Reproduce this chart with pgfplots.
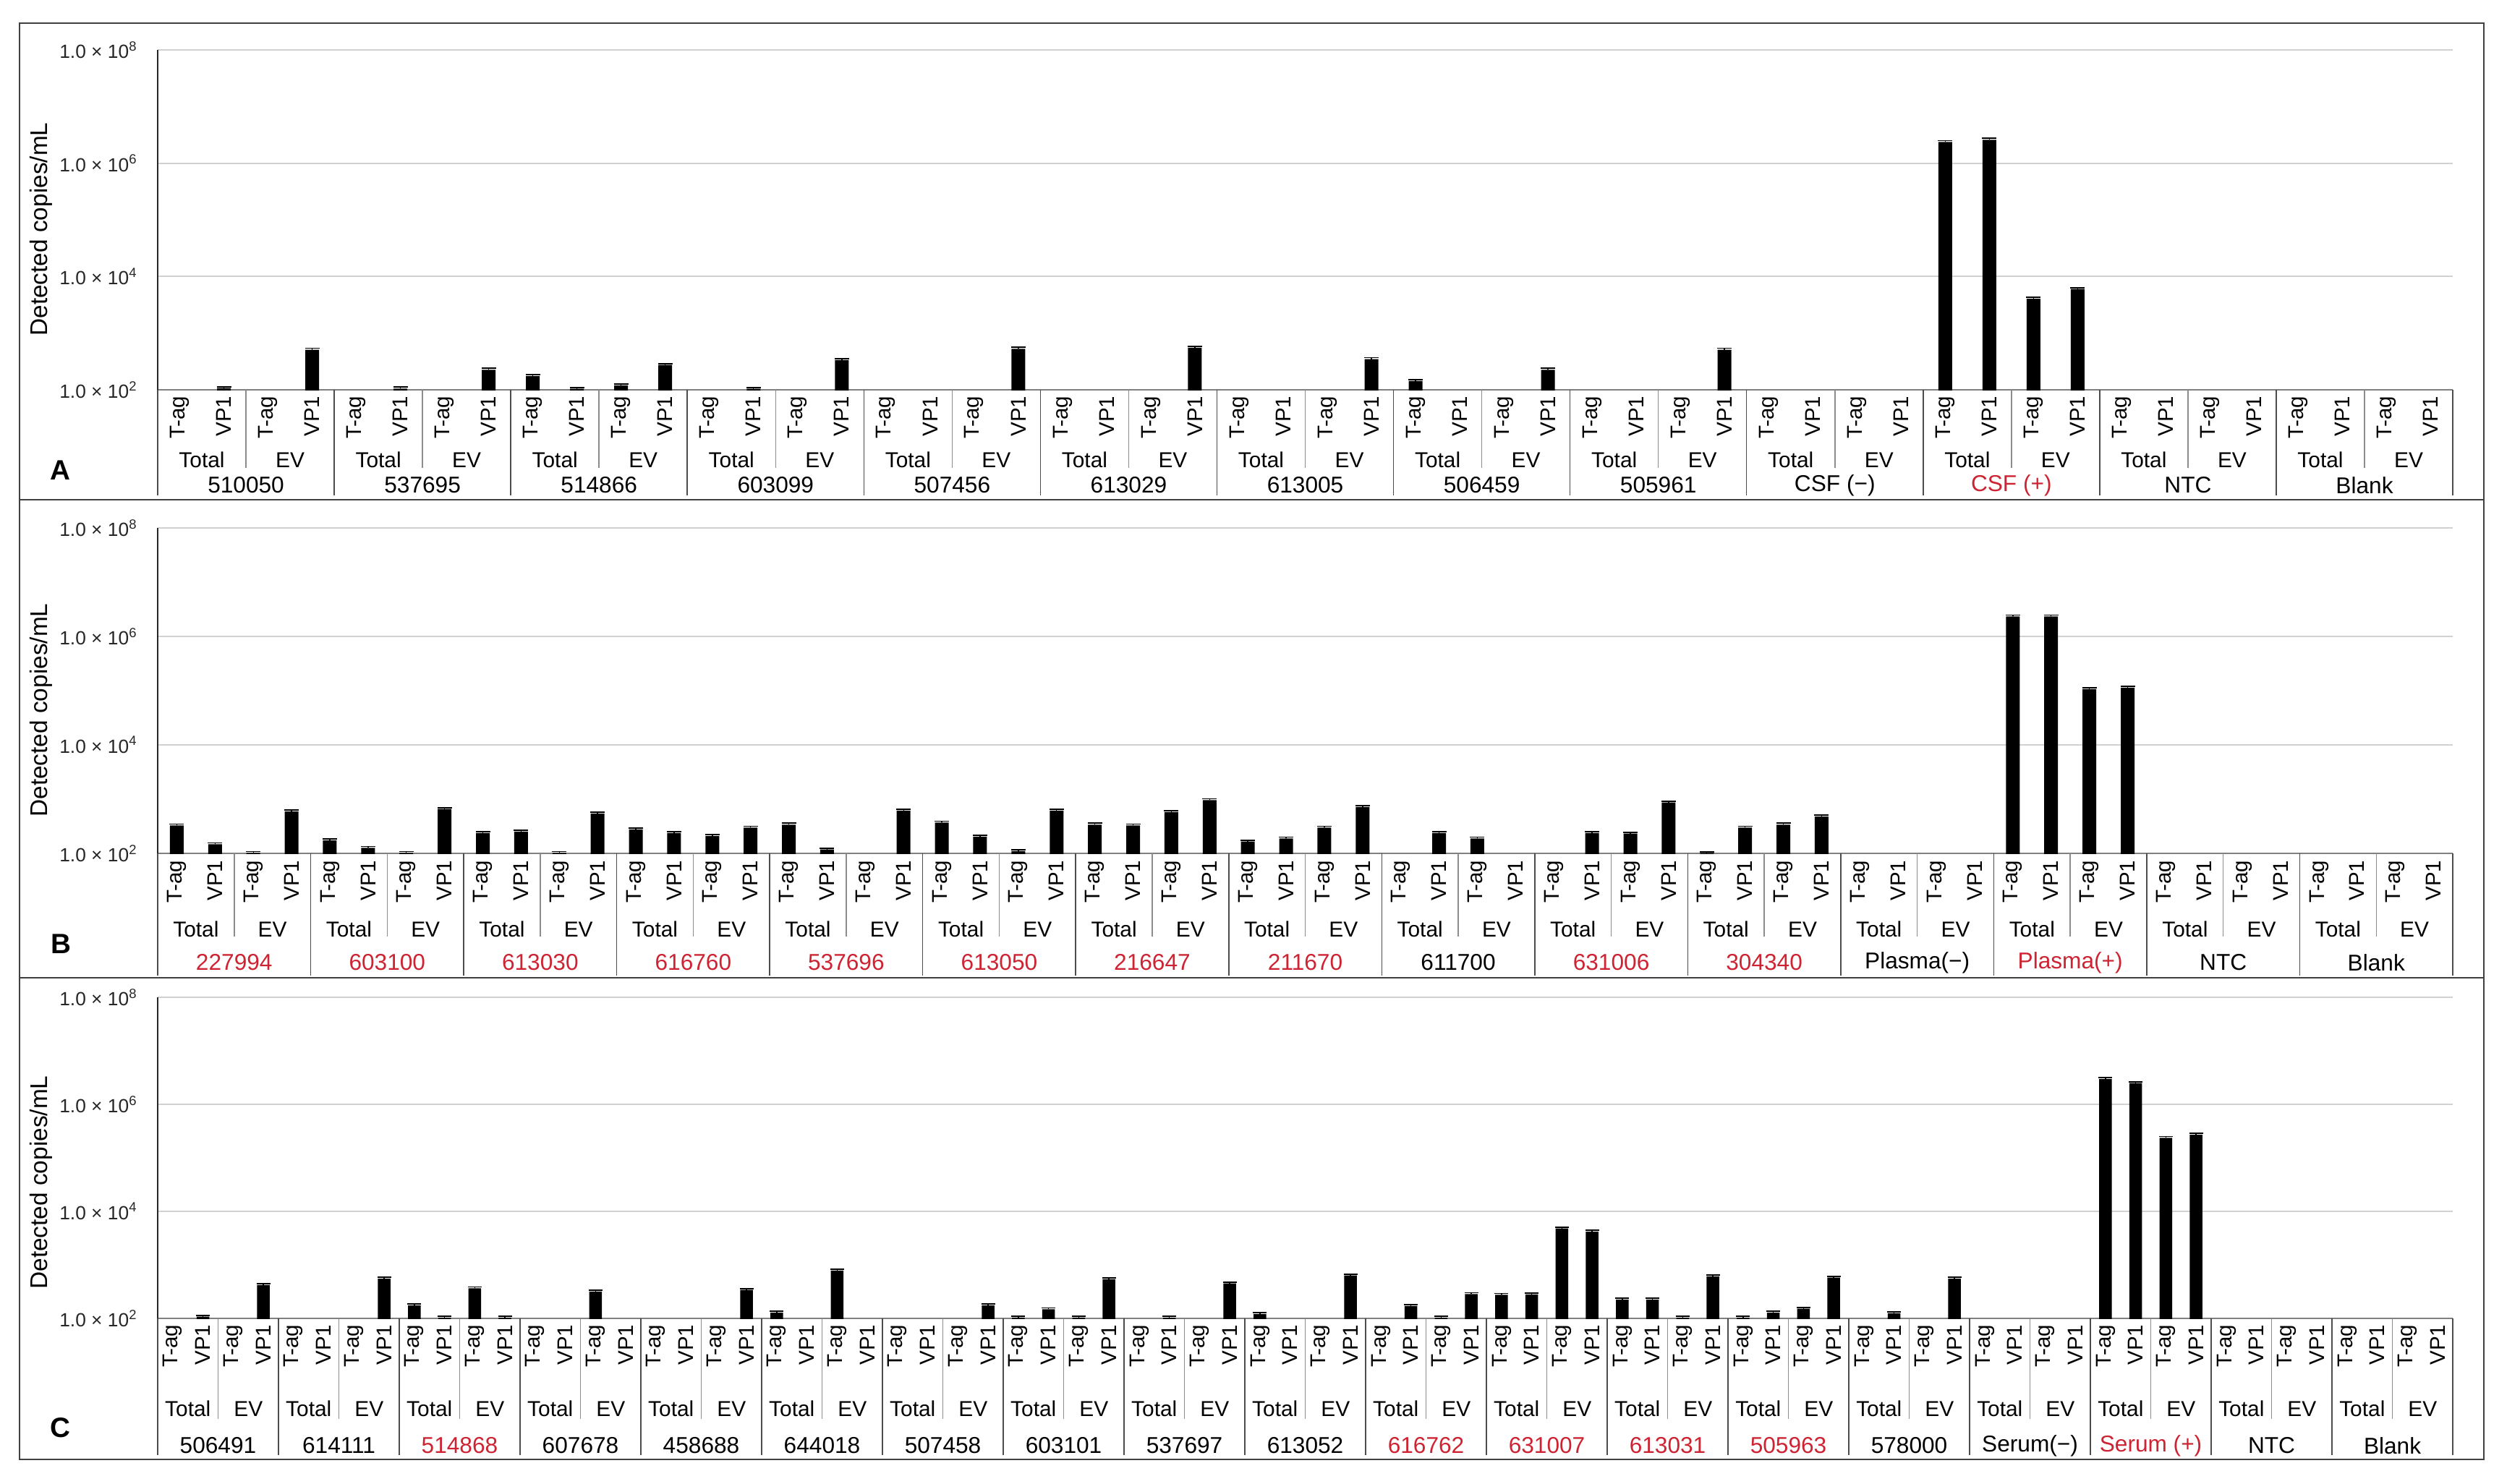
\documentclass[border=0pt]{standalone}
\usepackage{pgfplots}
\pgfplotsset{compat=1.18}
\usepackage{fontspec}
\setmainfont{Liberation Sans}
\definecolor{lblred}{RGB}{205,35,50}

\newcommand\fRot{\fontsize{8.4}{9}\selectfont}
\newcommand\fSub{\fontsize{8.5}{9}\selectfont}
\newcommand\fId{\fontsize{9}{10}\selectfont}
\newcommand\fTick{\fontsize{7.5}{8}\selectfont}

% #1 groups, #2 slot, #3 axis bottom, #4 rot top, #5 sub y, #6 sub line end, #7 id y, #8 group line end, #9 labels
\newcommand\panelrows[9]{%
  \pgfmathtruncatemacro\nb{4*#1-1}%
  \foreach \i in {0,...,\nb}{%
    \pgfmathsetmacro\xx{218+#2*(\i+0.5)}%
    \node[rotate=90, anchor=east, inner sep=0pt, font=\fRot] at (\xx,#4) {\ifodd\i VP1\else T-ag\fi};
  }%
  \pgfmathtruncatemacro\ns{2*#1-1}%
  \foreach \s in {0,...,\ns}{%
    \pgfmathsetmacro\xx{218+#2*(2*\s+1)}%
    \node[inner sep=0pt, font=\fSub] at (\xx,#5) {\ifodd\s EV\else Total\fi};
  }%
  \foreach \g in {0,...,#1}{%
    \pgfmathsetmacro\xx{218+4*#2*\g}%
    \draw[black!70, line width=0.15mm] (\xx,#3) -- (\xx,#8);
  }%
  \pgfmathtruncatemacro\ngm{#1-1}%
  \foreach \g in {0,...,\ngm}{%
    \pgfmathsetmacro\xx{218+#2*(4*\g+2)}%
    \draw[black!45, line width=0.15mm] (\xx,#3) -- (\xx,#6);
  }%
  \foreach \lab/\col [count=\g from 0] in {#9}{%
    \pgfmathsetmacro\xx{218+#2*(4*\g+2)}%
    \node[inner sep=0pt, font=\fId, text=\col] at (\xx,#7) {\lab};
  }%
}

\begin{document}
\begin{tikzpicture}
\useasboundingbox (0,0) rectangle (346.6mm,-205.1mm);

% Panel A
\begin{axis}[scale only axis, anchor=south west, width=317.3mm, height=47.0mm, at={(21.8mm,-53.9mm)},
    xmin=-0.5, xmax=51.5,
    ymode=log, ymin=100, ymax=100000000,
    ytick={100,10000,1000000,100000000},
    yticklabels={{1.0 × 10\textsuperscript{2}},{1.0 × 10\textsuperscript{4}},{1.0 × 10\textsuperscript{6}},{1.0 × 10\textsuperscript{8}}},
    xtick=\empty,
    axis x line*=bottom, axis y line*=left,
    x axis line style={black!50, line width=0.2mm},
    y axis line style={black!85, line width=0.2mm},
    ymajorgrids, major grid style={black!18, line width=0.22mm},
    major tick length=0pt,
    yticklabel style={font=\fTick, text=black!85, inner sep=0pt, xshift=-2.7mm}]
\addplot[ybar, bar width=1.9mm, fill=black, draw=none,
    error bars/.cd, y dir=plus, y fixed relative=0.06,
    error bar style={black, line width=0.4pt},
    error mark options={rotate=90, black, mark size=1.0mm, line width=0.5pt}] coordinates {(1,107) (3,510) (5,105) (7,226) (8,174) (9,104) (10,120) (11,275) (13,104) (15,334) (19,530) (23,551) (27,348) (28,143) (31,226) (35,510) (40,2.36e6) (41,2.59e6) (42,4060) (43,6000)};
\end{axis}

% Panel B
\begin{axis}[scale only axis, anchor=south west, width=317.3mm, height=45.0mm, at={(21.8mm,-118.0mm)},
    xmin=-0.5, xmax=59.5,
    ymode=log, ymin=100, ymax=100000000,
    ytick={100,10000,1000000,100000000},
    yticklabels={{1.0 × 10\textsuperscript{2}},{1.0 × 10\textsuperscript{4}},{1.0 × 10\textsuperscript{6}},{1.0 × 10\textsuperscript{8}}},
    xtick=\empty,
    axis x line*=bottom, axis y line*=left,
    x axis line style={black!50, line width=0.2mm},
    y axis line style={black!85, line width=0.2mm},
    ymajorgrids, major grid style={black!18, line width=0.22mm},
    major tick length=0pt,
    yticklabel style={font=\fTick, text=black!85, inner sep=0pt, xshift=-2.7mm}]
\addplot[ybar, bar width=1.9mm, fill=black, draw=none,
    error bars/.cd, y dir=plus, y fixed relative=0.06,
    error bar style={black, line width=0.4pt},
    error mark options={rotate=90, black, mark size=1.0mm, line width=0.5pt}] coordinates {(0,327) (1,147) (2,102) (3,593) (4,173) (5,126) (6,102) (7,657) (8,238) (9,253) (10,102) (11,543) (12,277) (13,238) (14,209) (15,299) (16,339) (17,118) (19,617) (20,371) (21,204) (22,110) (23,617) (24,339) (25,327) (26,578) (27,962) (28,166) (29,189) (30,299) (31,718) (33,238) (34,189) (37,238) (38,232) (39,869) (40,101) (41,299) (42,339) (43,478) (48,2.34e6) (49,2.34e6) (50,1.07e5) (51,1.14e5)};
\end{axis}

% Panel C
\begin{axis}[scale only axis, anchor=south west, width=317.3mm, height=44.4mm, at={(21.8mm,-182.3mm)},
    xmin=-0.5, xmax=75.5,
    ymode=log, ymin=100, ymax=100000000,
    ytick={100,10000,1000000,100000000},
    yticklabels={{1.0 × 10\textsuperscript{2}},{1.0 × 10\textsuperscript{4}},{1.0 × 10\textsuperscript{6}},{1.0 × 10\textsuperscript{8}}},
    xtick=\empty,
    axis x line*=bottom, axis y line*=left,
    x axis line style={black!50, line width=0.2mm},
    y axis line style={black!85, line width=0.2mm},
    ymajorgrids, major grid style={black!18, line width=0.22mm},
    major tick length=0pt,
    yticklabel style={font=\fTick, text=black!85, inner sep=0pt, xshift=-2.7mm}]
\addplot[ybar, bar width=1.76mm, fill=black, draw=none,
    error bars/.cd, y dir=plus, y fixed relative=0.06,
    error bar style={black, line width=0.4pt},
    error mark options={rotate=90, black, mark size=0.95mm, line width=0.5pt}] coordinates {(1,108) (3,419) (7,553) (8,175) (9,103) (10,365) (11,103) (14,318) (19,340) (20,128) (22,784) (27,175) (28,104) (29,148) (30,104) (31,538) (33,103) (35,450) (36,120) (39,637) (41,170) (42,103) (43,284) (44,276) (45,280) (46,4790) (47,4160) (48,224) (49,224) (50,103) (51,611) (52,103) (53,128) (54,152) (55,577) (57,125) (59,553) (64,2.96e6) (65,2.5e6) (66,2.36e5) (67,2.7e5)};
\end{axis}

\begin{scope}[x=0.1mm, y=-0.1mm]
\draw[black!75, line width=0.2mm] (27,32) rectangle (3434,2018);
\draw[black!75, line width=0.2mm] (27,691) -- (3434,691);
\draw[black!75, line width=0.2mm] (27,1352) -- (3434,1352);

\node[rotate=90, font=\fontsize{9.5}{11}\selectfont] at (57,317) {Detected copies/mL};
\node[rotate=90, font=\fontsize{9.5}{11}\selectfont] at (57,982) {Detected copies/mL};
\node[rotate=90, font=\fontsize{9.5}{11}\selectfont] at (57,1635) {Detected copies/mL};

\node[font=\fontsize{11}{12}\selectfont\bfseries] at (83,650) {A};
\node[font=\fontsize{11}{12}\selectfont\bfseries] at (84,1305) {B};
\node[font=\fontsize{11}{12}\selectfont\bfseries] at (83,1974) {C};

\panelrows{13}{61.019}{539}{547}{636}{647}{671}{685}{510050/black,537695/black,514866/black,603099/black,507456/black,613029/black,613005/black,506459/black,505961/black,{CSF (−)}/black,{CSF (+)}/lblred,NTC/black,Blank/black}

\panelrows{15}{52.883}{1180}{1189}{1285}{1295}{1331}{1349}{227994/lblred,603100/lblred,613030/lblred,616760/lblred,537696/lblred,613050/lblred,216647/lblred,211670/lblred,611700/black,631006/lblred,304340/lblred,{Plasma(−)}/black,{Plasma(+)}/lblred,NTC/black,Blank/black}

\panelrows{19}{41.75}{1823}{1831}{1948}{1962}{1999}{2012}{506491/black,614111/black,514868/lblred,607678/black,458688/black,644018/black,507458/black,603101/black,537697/black,613052/black,616762/lblred,631007/lblred,613031/lblred,505963/lblred,578000/black,{Serum(−)}/black,{Serum (+)}/lblred,NTC/black,Blank/black}
\end{scope}
\end{tikzpicture}
\end{document}
